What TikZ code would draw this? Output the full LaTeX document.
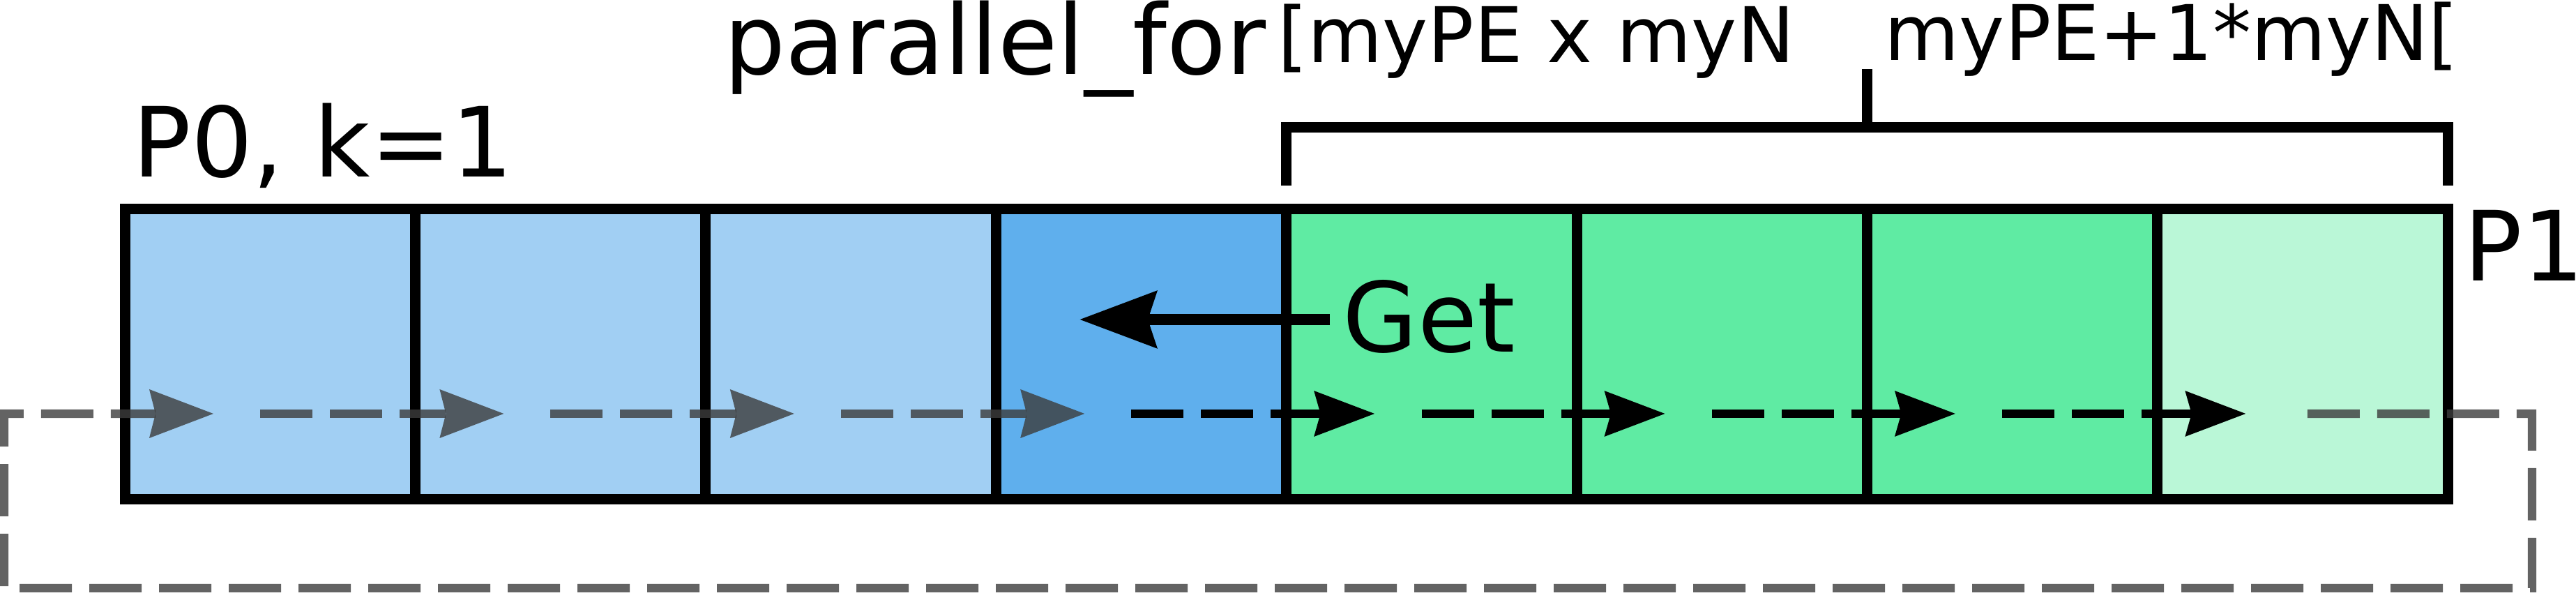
\documentclass[tikz,border=0pt]{standalone}
\usepackage{fontspec}
\setmainfont{DejaVu Sans}
\usetikzlibrary{arrows.meta, calc}
\definecolor{lblue}{HTML}{A1CFF3}
\definecolor{dblue}{HTML}{5FAFED}
\definecolor{mgreen}{HTML}{5FEBA3}
\definecolor{lgreen}{HTML}{BAF7D7}
\definecolor{loopgray}{HTML}{3C3C3C}

\begin{document}
\begin{tikzpicture}[
    cell/.style={draw, line width=0.15cm, minimum width=4.164cm, minimum height=4.16cm, inner sep=0pt, outer sep=0pt},
    lbl/.style={anchor=base west, inner sep=0pt, font=\fontsize{39.5}{47}\selectfont},
    smalllbl/.style={anchor=base west, inner sep=0pt, font=\fontsize{31.3}{38}\selectfont},
    iter/.style={line width=0.123cm, dash pattern=on 0.75cm off 0.25cm, -{Stealth[length=0.86cm, width=0.63cm, inset=0.08cm]}},
    shadow/.style={line width=0.123cm, dash pattern=on 0.75cm off 0.25cm, draw=loopgray, opacity=0.8,
        -{Stealth[length=0.92cm, width=0.70cm, inset=0.09cm, line width=0pt, fill=loopgray]}},
    bracket/.style={line width=0.15cm},
    getarrow/.style={line width=0.16cm, -{Stealth[length=1.10cm, width=0.80cm, inset=0.12cm]}},
  ]
                        \useasboundingbox (0,0) rectangle (36.94,-8.50);
                        % the array, split in 8 blocks
                        \foreach \i/\col in {1/lblue,2/lblue,3/lblue,4/dblue,5/mgreen,6/mgreen,7/mgreen,8/lgreen}
                            \node[cell, fill=\col] (c\i) at ({3.872+4.164*(\i-1)}, -5.08) {};
                        \foreach \i in {1,...,8}
                            \coordinate (t\i) at ([xshift=1.27cm, yshift=-0.85cm]c\i.west);
                        % iteration order
                        \foreach \j/\i in {1/2,2/3,3/4}
                            \draw[shadow] ([xshift=0.67cm]t\j) -- (t\i);
                        \foreach \j/\i in {4/5,5/6,6/7,7/8}
                            \draw[iter] ([xshift=0.67cm]t\j) -- (t\i);
                        \coordinate (lpr) at (36.31,-5.93);
                        \coordinate (lpl) at (0.06,-8.43);
                        \draw[shadow] ([xshift=0.88cm]t8) -- (lpr) |- (lpl) -- (lpl |- t1) -- (t1);
                        % range of P1
                        \draw[bracket] ([yshift=0.34cm]c5.north west) -- ([yshift=1.17cm]c5.north west) -- ([yshift=1.17cm]c8.north east) -- ([yshift=0.34cm]c8.north east);
                        \draw[bracket] ([yshift=1.17cm]c7.north west) -- ([yshift=2.01cm]c7.north west);
                        \node[lbl] (pzero) at (1.90,-2.54) {P0, k=1};
                        \node[lbl] (pfor) at (10.38,-1.07) {parallel\_for};
                        \node[smalllbl] (lobound) at (18.32,-0.90) {[myPE x myN};
                        \node[smalllbl] (hibound) at (27.02,-0.87) {myPE+1*myN[};
                        \node[lbl] (pone) at (35.33,-4.03) {P1};
                        \node[lbl] (get) at (19.25,-5.05) {Get};
                        \coordinate (gettip) at (15.48,-4.58);
                        \draw[getarrow] ($(gettip -| get.west)+(-0.18,0)$) -- (gettip);
                    \end{tikzpicture}
\end{document}
